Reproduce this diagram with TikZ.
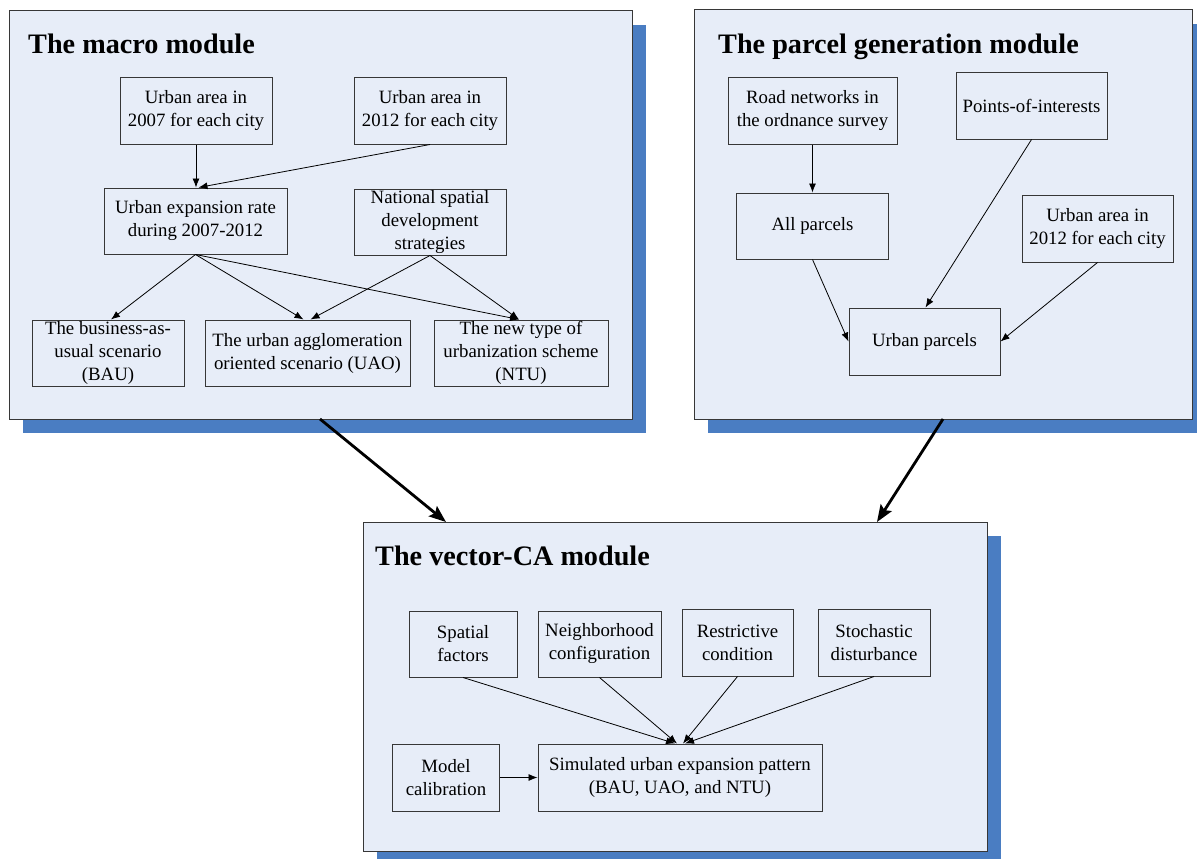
\documentclass[tikz,border=0pt]{standalone}
\usepackage{fontspec}
\setmainfont{Liberation Serif}
\usetikzlibrary{arrows.meta}
\definecolor{panelfill}{RGB}{231,237,248}
\definecolor{shadowblue}{RGB}{74,125,194}
\definecolor{boxline}{RGB}{55,55,55}
\begin{document}
\begin{tikzpicture}[x=1pt,y=-1pt,
 box/.style={draw=boxline, line width=1pt, inner sep=0pt, align=center, font=\fontsize{18.8}{23}\selectfont},
 ttl/.style={anchor=base west, inner sep=0pt, font=\fontsize{28.2}{32}\selectfont\bfseries},
 arr/.style={-{Latex[length=9pt,width=7pt]}, line width=0.8pt},
 bigarr/.style={-{Stealth[length=17pt,width=13pt,inset=3pt]}, line width=2.8pt},
 panel/.style={draw=boxline, fill=panelfill, line width=1pt},
 shadowbox/.style={fill=shadowblue}]
\useasboundingbox (0,0) rectangle (1197,859);
% shadows
\fill[shadowbox] (23,25) rectangle (646,433);
\fill[shadowbox] (708,24) rectangle (1197,433);
\fill[shadowbox] (377,536) rectangle (1001,859);
% panels
\draw[panel] (9,11) rectangle (632,419);
\draw[panel] (694,10) rectangle (1192,419);
\draw[panel] (363,522) rectangle (987,851);
% titles
\node[ttl] (t1) at (28,54) {The macro module};
\node[ttl] (t2) at (718,54) {The parcel generation module};
\node[ttl] (t3) at (375,565) {The vector-CA module};
% macro module
\node[box, minimum width=152pt, minimum height=66pt] (a2007) at (196,111) {Urban area in\\2007 for each city};
\node[box, minimum width=152pt, minimum height=66pt] (a2012) at (430,111) {Urban area in\\2012 for each city};
\node[box, minimum width=183pt, minimum height=66pt] (rate) at (195.5,221) {Urban expansion rate\\during 2007-2012};
\node[box, minimum width=152pt, minimum height=66pt] (nat) at (430,222) {National spatial\\development\\strategies};
\node[box, minimum width=152pt, minimum height=66pt] (bau) at (108,353) {The business-as-\\usual scenario\\(BAU)};
\node[box, minimum width=205pt, minimum height=66pt] (uao) at (307.5,353) {The urban agglomeration\\oriented scenario (UAO)};
\node[box, minimum width=174pt, minimum height=66pt] (ntu) at (521,353) {The new type of\\urbanization scheme\\(NTU)};
\draw[arr] (a2007.south) -- (a2007.south |- rate.north);
\draw[arr] (a2012.south) -- ([xshift=3pt]rate.north);
\draw[arr] (rate.south) -- ([xshift=3pt]bau.north);
\draw[arr] (rate.south) -- ([xshift=-4pt]uao.north);
\draw[arr] (rate.south) -- ([xshift=-2pt]ntu.north);
\draw[arr] (nat.south) -- ([xshift=3pt]uao.north);
\draw[arr] (nat.south) -- ([xshift=-2pt]ntu.north);
% parcel module
\node[box, minimum width=169pt, minimum height=66pt] (road) at (812.5,111) {Road networks in\\the ordnance survey};
\node[box, minimum width=151pt, minimum height=66pt] (poi) at (1031.5,106) {Points-of-interests};
\node[box, minimum width=152pt, minimum height=66pt] (all) at (812.5,226) {All parcels};
\node[box, minimum width=151pt, minimum height=67pt] (ua12) at (1097.5,228.5) {Urban area in\\2012 for each city};
\node[box, minimum width=151pt, minimum height=67pt] (up) at (924.5,341.5) {Urban parcels};
\draw[arr] (road.south) -- (road.south |- all.north);
\draw[arr] (all.south) -- (up.west);
\draw[arr] (poi.south) -- ([xshift=1pt]up.north);
\draw[arr] (ua12.south) -- (up.east);
% vector-CA module
\node[box, minimum width=108pt, minimum height=66pt] (sf) at (463,644) {Spatial\\factors};
\node[box, minimum width=123pt, minimum height=66pt] (nc) at (599.5,644) {Neighborhood\\configuration};
\node[box, minimum width=111pt, minimum height=67pt] (rc) at (737.5,642.5) {Restrictive\\condition};
\node[box, minimum width=112pt, minimum height=67pt] (sd) at (874,642.5) {Stochastic\\disturbance};
\node[box, minimum width=107.5pt, minimum height=67pt] (mc) at (446,777.5) {Model\\calibration};
\node[box, minimum width=284pt, minimum height=67pt] (sim) at (680,777.5) {Simulated urban expansion pattern\\(BAU, UAO, and NTU)};
\draw[arr] (sf.south) -- ([xshift=-5pt]sim.north);
\draw[arr] (nc.south) -- ([xshift=-3pt]sim.north);
\draw[arr] (rc.south) -- ([xshift=3pt]sim.north);
\draw[arr] (sd.south) -- ([xshift=5pt]sim.north);
\draw[arr] (mc.east) -- (sim.west);
% big arrows between modules
\coordinate (macroOut) at (320,419);
\coordinate (vecInL) at (446,522);
\coordinate (parcelOut) at (943,419);
\coordinate (vecInR) at (877,522);
\draw[bigarr] (macroOut) -- (vecInL);
\draw[bigarr] (parcelOut) -- (vecInR);
\end{tikzpicture}
\end{document}
